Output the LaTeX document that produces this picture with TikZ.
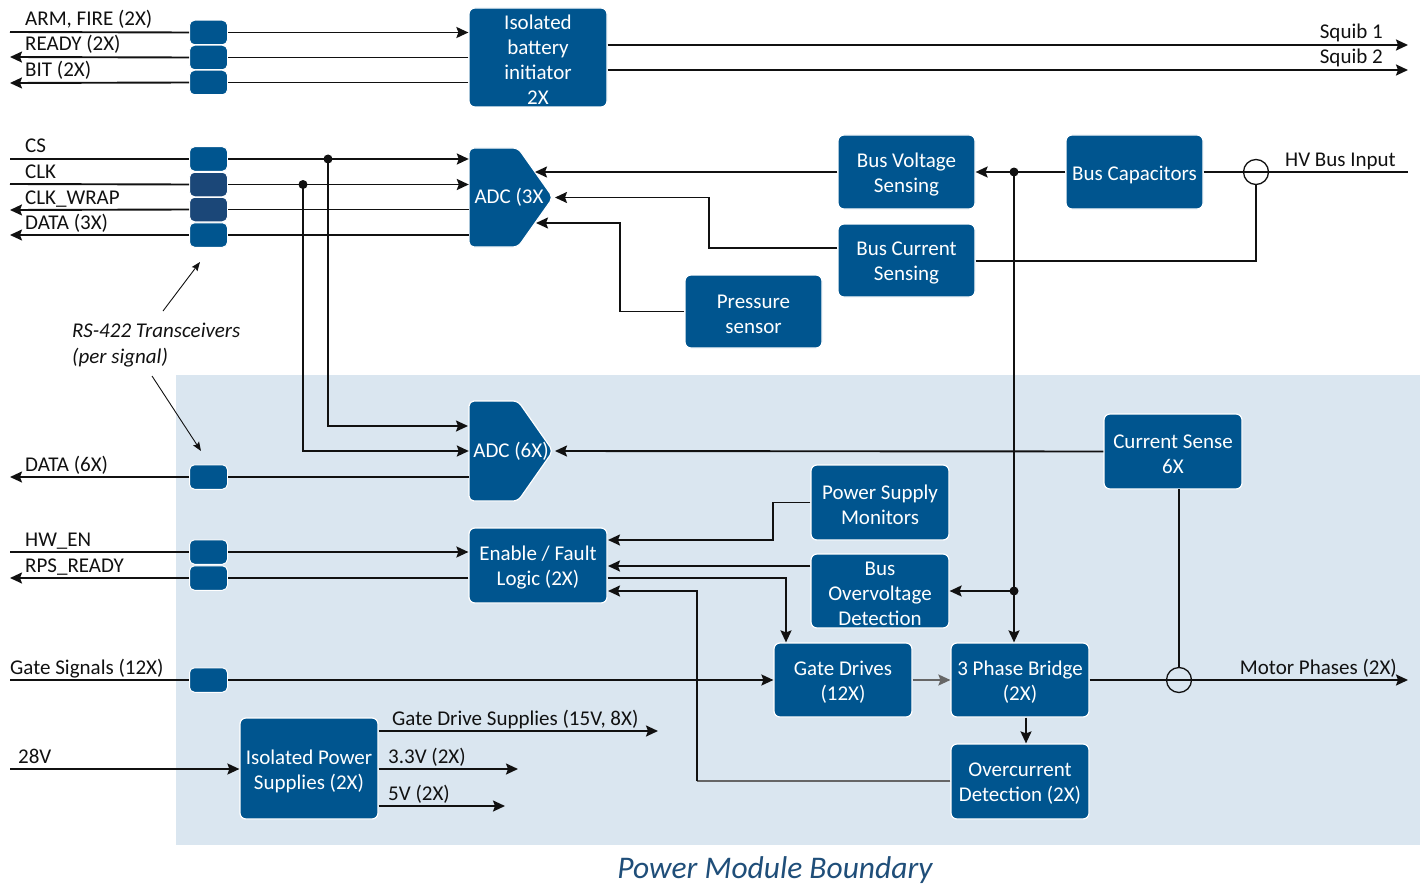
\documentclass[tikz,border=0pt]{standalone}
\usepackage{fontspec}
\setmainfont{Carlito}
\usetikzlibrary{arrows.meta}
\definecolor{mblue}{HTML}{00558F}
\definecolor{dblue}{HTML}{1B4778}
\definecolor{bgblue}{HTML}{DAE6F0}
\definecolor{ttl}{HTML}{1F4E79}
\definecolor{ink}{HTML}{111111}
\definecolor{gline}{HTML}{666666}
\newcommand\fs{\fontsize{21}{25}\selectfont}
\newcommand\Bx[6]{\node[blk,minimum width={(#4-#2)*1pt},minimum height={(#5-#3)*1pt}] (#1) at ({(#2+#4)/2},{(#3+#5)/2}) {};
 \node[btxt] at ([yshift=-2.5pt]#1.center) {#6};}
\newcommand\Tx[3]{\node[xcv,#3] (#1) at (208.5,#2) {};}
\begin{document}
\begin{tikzpicture}[x=1pt,y=-1pt,
 blk/.style={rectangle,rounded corners=6pt,fill=mblue,draw=white,line width=1.2pt,inner sep=0pt},
 btxt/.style={text=white,align=center,inner sep=0pt,font=\fs},
 xcv/.style={rectangle,rounded corners=5pt,fill=mblue,draw=white,line width=1pt,minimum width=38pt,minimum height=24.5pt,inner sep=0pt},
 dk/.style={fill=dblue},
 wire/.style={line width=1.9pt,draw=ink},
 arr/.style={wire,-{Stealth[length=12pt,width=11pt,inset=2pt]}},
 thinarr/.style={line width=0.9pt,draw=ink,-{Stealth[length=9pt,width=7pt,inset=1.5pt]}},
 lbl/.style={font=\fs,text=ink,inner sep=0pt,anchor=base west},
 rlbl/.style={font=\fs,text=ink,inner sep=0pt,anchor=base east},
 dot/.style={circle,fill=ink,inner sep=0pt,minimum size=9pt},
 ring/.style={circle,draw=ink,line width=1.3pt,inner sep=0pt,minimum size=25pt}
]
\useasboundingbox (0,0) rectangle (1424,888);
% power module background
\fill[bgblue] (176,375) rectangle (1420,845);

% ---------- boxes ----------
\Bx{ibi}{469}{8}{607}{107}{Isolated\\battery\\initiator\\2X}
\Bx{bvs}{838}{135}{975}{209}{Bus Voltage\\Sensing}
\Bx{bcs}{838}{224}{975}{297}{Bus Current\\Sensing}
\Bx{ps}{685}{275}{822}{348}{Pressure\\sensor}
\Bx{bcap}{1066}{135}{1203}{209}{Bus Capacitors}
\Bx{cs6}{1104}{414}{1242}{489}{Current Sense\\6X}
\Bx{psm}{811}{465}{949}{540}{Power Supply\\Monitors}
\Bx{efl}{469}{528}{607}{603}{Enable / Fault\\Logic (2X)}
\Bx{bod}{811}{554}{949}{628}{Bus\\Overvoltage\\Detection}
\Bx{gd}{774}{643}{912}{717}{Gate Drives\\(12X)}
\Bx{tpb}{951}{643}{1089}{717}{3 Phase Bridge\\(2X)}
\Bx{ocd}{951}{744}{1089}{819}{Overcurrent\\Detection (2X)}
\Bx{ips}{240}{718}{378}{819}{Isolated Power\\Supplies (2X)}

% ADC shapes
\draw[fill=mblue,draw=white,line width=1.2pt,rounded corners=5pt] (553,197.5) -- (518,247) -- (469,247) -- (469,148) -- (518,148) -- cycle;
\node[font=\fs,text=white,inner sep=0pt,minimum width=84pt,minimum height=99pt] (adc3) at (511,197.5) {\hspace*{-4pt}ADC (3X};
\draw[fill=mblue,draw=white,line width=1.2pt,rounded corners=5pt] (553,451) -- (518,501) -- (469,501) -- (469,401) -- (518,401) -- cycle;
\node[font=\fs,text=white,inner sep=0pt,minimum width=84pt,minimum height=100pt] (adc6) at (511,451) {ADC (6X)};
\coordinate (adc3a) at (535,172);
\coordinate (adc3b) at (555,197.5);
\coordinate (adc3c) at (536,223);
\coordinate (adc6r) at (555,451);

% transceivers
\Tx{t1}{32.5}{}
\Tx{t2}{57.5}{}
\Tx{t3}{82.5}{}
\Tx{t4}{159}{}
\Tx{t5}{184.5}{dk}
\Tx{t6}{209.5}{dk}
\Tx{t7}{235}{}
\Tx{t8}{477}{}
\Tx{t9}{552}{}
\Tx{t10}{578}{}
\Tx{t11}{680}{}

% free ends
\coordinate (armL) at (10,32);
\coordinate (rdyL) at (10,57);
\coordinate (bitL) at (10,83);
\coordinate (csL) at (10,159);
\coordinate (clkL) at (10,184);
\coordinate (cwL) at (10,210);
\coordinate (d3L) at (10,235);
\coordinate (d6L) at (10,477);
\coordinate (hwL) at (10,552);
\coordinate (rpsL) at (10,578);
\coordinate (gsL) at (10,680);
\coordinate (v28L) at (10,769);
\coordinate (sq1) at (1408,45);
\coordinate (sq2) at (1408,70);
\coordinate (hvR) at (1408,172);
\coordinate (mpR) at (1408,680);
\coordinate (gds) at (658,731);
\coordinate (v33) at (518,769);
\coordinate (v5) at (505,806);

% ---------- top connectors ----------
\draw[wire] (armL) -- (t1.west);
\draw[arr] (t1.east) -- (t1.east -| ibi.west);
\draw[arr] (t2.west) -- (rdyL);
\draw[wire] (t2.east -| ibi.west) -- (t2.east);
\draw[arr] (t3.west) -- (bitL);
\draw[wire] (t3.east -| ibi.west) -- (t3.east);
\draw[arr] (sq1 -| ibi.east) -- (sq1);
\draw[arr] (sq2 -| ibi.east) -- (sq2);

% CS block
\draw[wire] (csL) -- (t4.west);
\draw[arr] (t4.east) -- (t4.east -| adc3.west);
\draw[wire] (clkL) -- (t5.west);
\draw[arr] (t5.east) -- (t5.east -| adc3.west);
\draw[arr] (t6.west) -- (cwL);
\draw[wire] (t6.east -| adc3.west) -- (t6.east);
\draw[arr] (t7.west) -- (d3L);
\draw[wire] (t7.east -| adc3.west) -- (t7.east);
\node[dot] (j1) at (328,159) {};
\node[dot] (j2) at (303,184.5) {};
\draw[arr] (j1.center) |- (468,426);
\draw[arr] (j2.center) |- (adc6.west);

% sensing to ADC3
\draw[arr] (bvs.west) -- (adc3a);
\draw[arr] (bcs.west |- 0,248) -| (709,197.5) -- (adc3b);
\draw[arr] (ps.west) -| (620,223) -- (adc3c);

% HV bus
\draw[wire] (bcap.east) -- (hvR);
\node[ring] (hvc) at (1256,172) {};
\draw[arr] (bcap.west) -- (bvs.east);
\node[dot] (j3) at (1014,172) {};
\draw[wire] (bcs.east |- 0,261) -| (hvc.south);

% ---------- power module ----------
\draw[arr] (t8.west) -- (d6L);
\draw[wire] (t8.east -| adc6.west) -- (t8.east);
\draw[arr] (cs6.west) -- (adc6r);
\draw[wire] (1179,489) -- (1179,668);
\draw[arr] (psm.west) -- (773,502.5) |- (608,540);
\draw[wire] (hwL) -- (t9.west);
\draw[arr] (t9.east) -- (t9.east -| efl.west);
\draw[arr] (t10.west) -- (rpsL);
\draw[wire] (t10.east -| efl.west) -- (t10.east);
\draw[arr] (bod.west |- 0,566) -- (608,566);
\draw[arr] (efl.east |- 0,578) -| (gd.north -| 786,0);
\draw[gline,line width=1.9pt] (ocd.west |- 0,781) -- (697,781);
\draw[arr] (697,781) |- (608,591);
\draw[arr] (j3.center) -- (tpb.north -| 1014,0);
\node[dot] (j4) at (1014,591) {};
\draw[arr] (j4.center) -- (bod.east |- j4);

\draw[wire] (gsL) -- (t11.west);
\draw[arr] (t11.east) -- (gd.west);
\draw[arr,draw=gline] (gd.east) -- (tpb.west);
\draw[arr] (tpb.east) -- (mpR);
\node[ring] (mc) at (1179,680) {};
\draw[arr] (tpb.south -| 1026,0) -- (ocd.north -| 1026,0);

\draw[arr] (v28L) -- (ips.west |- v28L);
\draw[arr] (ips.east |- gds) -- (gds);
\draw[arr] (ips.east |- v33) -- (v33);
\draw[arr] (ips.east |- v5) -- (v5);

% RS-422 annotation
\node[lbl,font=\fs\itshape] (rs1) at (72,337) {RS-422 Transceivers};
\node[lbl,font=\fs\itshape] (rs2) at (72,363) {(per signal)};
\draw[thinarr] (163,311) -- (200,262);
\draw[thinarr] (152,376) -- (201,451);

% ---------- labels ----------
\node[lbl] at (25,26) {ARM, FIRE (2X)};
\node[lbl] at (25,51) {READY (2X)};
\node[lbl] at (25,77) {BIT (2X)};
\node[lbl] at (25,153) {CS};
\node[lbl] at (25,178) {CLK};
\node[lbl] at (25,204) {CLK\_WRAP};
\node[lbl] at (25,229) {DATA (3X)};
\node[rlbl] at (1383,39) {Squib 1};
\node[rlbl] at (1383,64) {Squib 2};
\node[lbl] at (1285,166) {HV Bus Input};
\node[lbl] at (25,471) {DATA (6X)};
\node[lbl] at (25,546) {HW\_EN};
\node[lbl] at (25,572) {RPS\_READY};
\node[lbl] at (10,674) {Gate Signals (12X)};
\node[rlbl] at (1397,674) {Motor Phases (2X)};
\node[lbl] at (18,763) {28V};
\node[lbl] at (392,725) {Gate Drive Supplies (15V, 8X)};
\node[lbl] at (388,763) {3.3V (2X)};
\node[lbl] at (388,800) {5V (2X)};
\node[font=\fontsize{31.5}{36}\selectfont\itshape,text=ttl,inner sep=0pt] (title) at (775,870) {Power Module Boundary};
\end{tikzpicture}
\end{document}
